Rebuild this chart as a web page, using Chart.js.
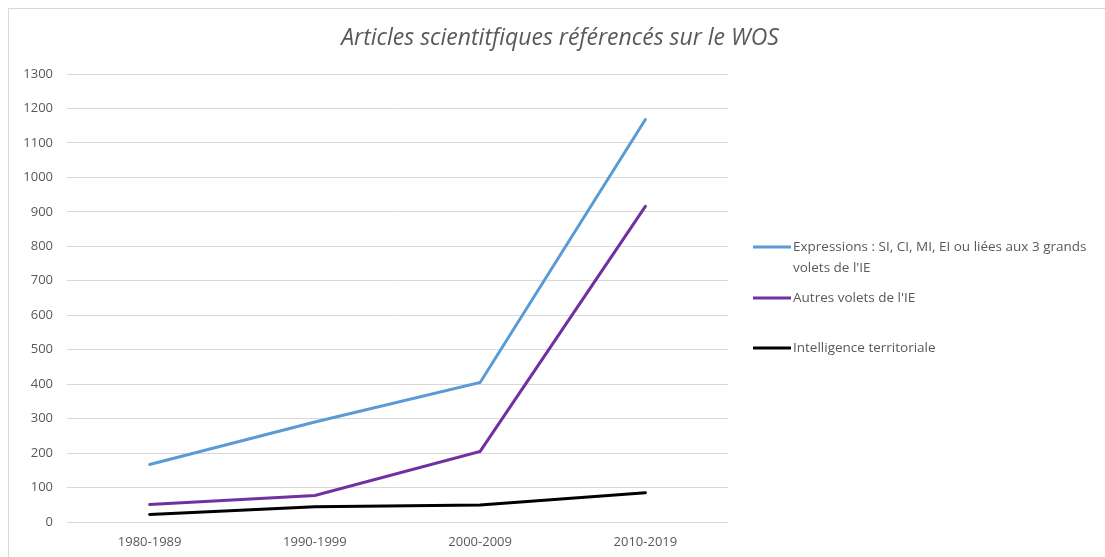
<!DOCTYPE html>
<html>
<head>
<meta charset="utf-8">
<script src="https://cdn.jsdelivr.net/npm/chart.js@4"></script>
<style>
  body { margin: 0; background: #fff; overflow: hidden; }
</style>
</head>
<body>
<canvas id="myChart" width="1105" height="557"></canvas>
<script>
// data
const periods = ["1980-1989", "1990-1999", "2000-2009", "2010-2019"];
const expressions = [167, 290, 405, 1168];
const autresVolets = [51, 77, 205, 916];
const intelTerritoriale = [22, 44, 49, 85];

const titleText = "Articles scientitfiques référencés sur le WOS";
const legendLabels = [
    ["Expressions : SI, CI, MI, EI ou liées aux 3 grands", "volets de l'IE"],
    ["Autres volets de l'IE"],
    ["Intelligence territoriale"]
];

const grey = "#595959";

// title, border and the legend at the right
const decor = {
    id: 'decor',
    beforeDraw(chart) {
        const c = chart.ctx;
        c.save();
        c.fillStyle = "#fff";
        c.fillRect(0, 0, chart.width, chart.height);
        c.strokeStyle = "#d9d9d9";
        c.lineWidth = 1;
        c.strokeRect(8.5, 8.5, 1200, 1200);
        c.restore();
    },
    afterDraw(chart) {
        const c = chart.ctx;
        c.save();
        c.fillStyle = grey;
        c.font = "italic 23px 'Open Sans'";
        c.textAlign = "center";
        c.textBaseline = "middle";
        c.fillText(titleText, 560, 38);

        const rows = [247, 298, 348];
        c.font = "13.5px 'Open Sans'";
        c.textAlign = "left";
        chart.data.datasets.forEach((ds, i) => {
            const y = rows[i];
            c.strokeStyle = ds.borderColor;
            c.lineWidth = 3;
            c.beginPath();
            c.moveTo(753, y);
            c.lineTo(791, y);
            c.stroke();
            c.fillStyle = grey;
            legendLabels[i].forEach((line, j) => {
                c.fillText(line, 793, y + j * 21);
            });
        });
        c.restore();
    }
};

let ctx = document.getElementById("myChart");

const lineStyle = { fill: false, borderWidth: 3, pointRadius: 0, tension: 0, borderCapStyle: 'round' };

var myLineChart = new Chart(ctx, {
    type: 'line',
    data: {
        labels: periods,
        datasets: [
            Object.assign({ label: legendLabels[0].join(" "), data: expressions, borderColor: "#5b9bd5" }, lineStyle),
            Object.assign({ label: legendLabels[1][0], data: autresVolets, borderColor: "#7030a0" }, lineStyle),
            Object.assign({ label: legendLabels[2][0], data: intelTerritoriale, borderColor: "#000000" }, lineStyle)
        ]
    },
    options: {
        responsive: false,
        animation: false,
        layout: { padding: { left: 0, right: 377, top: 74, bottom: 0 } },
        plugins: {
            legend: { display: false },
            title: { display: false },
            tooltip: { enabled: false }
        },
        scales: {
            x: {
                offset: true,
                grid: { display: false, drawTicks: false },
                border: { display: false },
                ticks: { color: grey, font: { family: "'Open Sans'", size: 13 }, padding: 12, maxRotation: 0 },
                afterFit: s => { s.height = 35; }
            },
            y: {
                min: 0,
                max: 1300,
                grid: { color: "#d9d9d9", drawTicks: false },
                border: { display: false },
                ticks: {
                    stepSize: 100, color: grey, font: { family: "'Open Sans'", size: 13 }, padding: 14,
                    callback: v => String(v)
                },
                afterFit: s => { s.width = 67; }
            }
        }
    },
    plugins: [decor]
});
</script>
</body>
</html>
